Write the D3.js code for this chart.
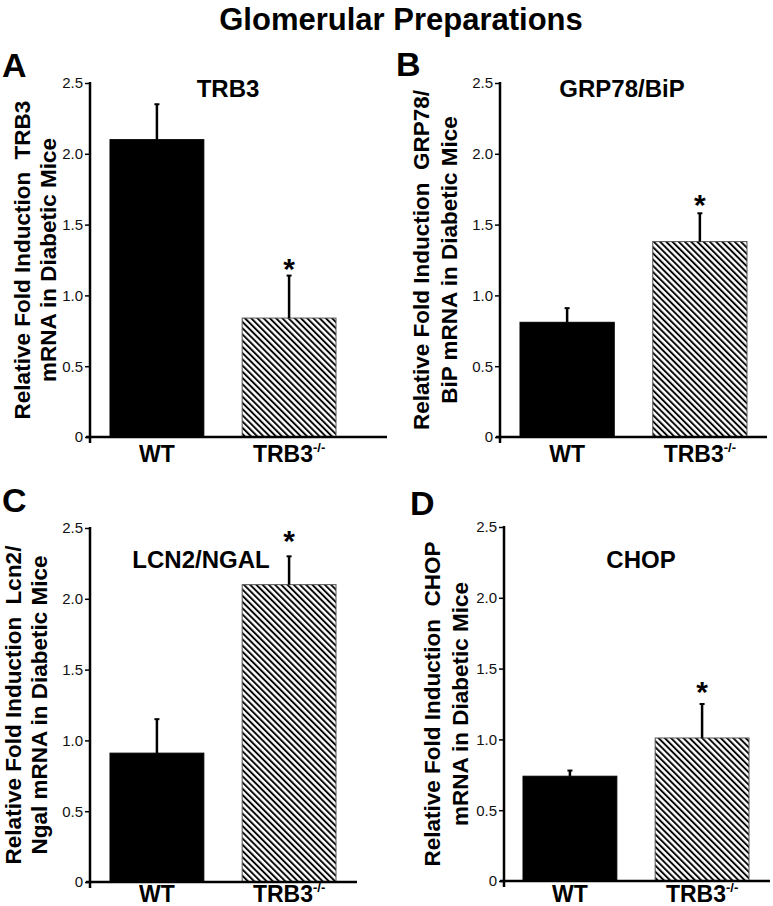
<!DOCTYPE html>
<html>
<head>
<meta charset="utf-8">
<script src="https://cdn.jsdelivr.net/npm/d3@7"></script>
<style>
  html, body { margin: 0; padding: 0; background: #fff; }
  svg { display: block; font-family: "Liberation Sans", Arial, Helvetica, sans-serif; }
</style>
</head>
<body>
<svg id="chart" width="773" height="906"></svg>
<script>
// ---- data ----
const mainTitle = "Glomerular Preparations";
const panelLetters = ["A", "B", "C", "D"];
const panelTitles = ["TRB3", "GRP78/BiP", "LCN2/NGAL", "CHOP"];
const categories = ["WT", "TRB3"];
const categorySup = ["", "-/-"];
const wtMean = [2.10, 0.81, 0.91, 0.74];
const wtErr  = [0.25, 0.10, 0.24, 0.04];
const koMean = [0.84, 1.38, 2.10, 1.01];
const koErr  = [0.30, 0.20, 0.20, 0.24];
const significant = [true, true, true, true];
const yTicks = [0, 0.5, 1.0, 1.5, 2.0, 2.5];
const yLabelLines = [
  ["Relative Fold Induction  TRB3", "mRNA in Diabetic Mice"],
  ["Relative Fold Induction  GRP78/", "BiP mRNA in Diabetic Mice"],
  ["Relative Fold Induction  Lcn2/", "Ngal mRNA in Diabetic Mice"],
  ["Relative Fold Induction  CHOP", "mRNA in Diabetic Mice"]
];

// ---- layout (pixels) ----
const layout = [
  {axisX: 90,  yTop: 83,  y0: 437, bars: [110, 336], xEnd: 387, title: [228, 97],  letter: [2, 77],   ylab: [30, 56],   xlabY: 462, starDy: 14},
  {axisX: 500, yTop: 83,  y0: 437, bars: [520, 747], xEnd: 767, title: [622, 97],  letter: [396, 76], ylab: [429, 457], xlabY: 462, starDy: 15},
  {axisX: 90,  yTop: 528, y0: 882, bars: [110, 336], xEnd: 357, title: [201, 568], letter: [2, 512],  ylab: [21, 47],   xlabY: 902, starDy: 22},
  {axisX: 504, yTop: 527, y0: 881, bars: [523, 749], xEnd: 770, title: [641, 568], letter: [410, 515], ylab: [440, 468], xlabY: 902, starDy: 19}
];

const svg = d3.select("#chart");

// hatch pattern
const defs = svg.append("defs");
const pat = defs.append("pattern")
  .attr("id", "hatch")
  .attr("patternUnits", "userSpaceOnUse")
  .attr("width", 4.4).attr("height", 4.4)
  .attr("patternTransform", "rotate(-45)");
pat.append("rect").attr("width", 4.4).attr("height", 4.4).attr("fill", "#fff");
pat.append("line").attr("x1", 1).attr("y1", 0).attr("x2", 1).attr("y2", 4.4)
  .attr("stroke", "#000").attr("stroke-width", 1.9);

// main title
svg.append("text")
  .attr("x", 401).attr("y", 30)
  .attr("text-anchor", "middle")
  .attr("font-size", 31).attr("font-weight", "bold")
  .text(mainTitle);

panelLetters.forEach((letter, i) => {
  const L = layout[i];
  const g = svg.append("g");

  const y = d3.scaleLinear().domain([0, 2.5]).range([L.y0, L.yTop]);
  const x = d3.scaleBand().domain(categories).range(L.bars).paddingInner(0.29).paddingOuter(0);

  const means = [wtMean[i], koMean[i]];
  const errs = [wtErr[i], koErr[i]];
  const rows = categories.map((c, k) => ({cat: c, sup: categorySup[k], mean: means[k], err: errs[k], k}));

  // bars
  g.selectAll("rect.bar").data(rows).enter().append("rect")
    .attr("class", "bar")
    .attr("x", d => x(d.cat))
    .attr("width", x.bandwidth())
    .attr("y", d => y(d.mean))
    .attr("height", d => y(0) - y(d.mean))
    .attr("fill", d => d.k === 0 ? "#000" : "url(#hatch)")
    .attr("stroke", d => d.k === 0 ? "#000" : "#555")
    .attr("stroke-width", 1);

  // error bars (upper only)
  g.selectAll("line.err").data(rows).enter().append("line")
    .attr("x1", d => x(d.cat) + x.bandwidth() / 2)
    .attr("x2", d => x(d.cat) + x.bandwidth() / 2)
    .attr("y1", d => y(d.mean))
    .attr("y2", d => y(d.mean + d.err))
    .attr("stroke", "#000").attr("stroke-width", 2.5);
  g.selectAll("line.cap").data(rows).enter().append("line")
    .attr("x1", d => x(d.cat) + x.bandwidth() / 2 - 2.5)
    .attr("x2", d => x(d.cat) + x.bandwidth() / 2 + 2.5)
    .attr("y1", d => y(d.mean + d.err))
    .attr("y2", d => y(d.mean + d.err))
    .attr("stroke", "#000").attr("stroke-width", 2);

  // asterisk
  if (significant[i]) {
    const d = rows[1];
    g.append("text")
      .attr("x", x(d.cat) + x.bandwidth() / 2)
      .attr("y", y(d.mean + d.err) - L.starDy + 17)
      .attr("text-anchor", "middle")
      .attr("font-size", 30).attr("font-weight", "bold")
      .text("*");
  }

  // y axis
  const yAxis = d3.axisLeft(y)
    .tickValues(yTicks)
    .tickFormat(v => v === 0 ? "0" : d3.format(".1f")(v))
    .tickSize(5).tickSizeOuter(0).tickPadding(2);
  const ga = g.append("g").attr("transform", `translate(${L.axisX},0)`).call(yAxis);
  ga.select(".domain").remove();
  ga.selectAll(".tick line").attr("stroke", "#000").attr("stroke-width", 1.5);
  ga.selectAll(".tick text")
    .attr("font-size", 15).attr("fill", "#111")
    .attr("font-family", "'Liberation Sans', Arial, sans-serif");
  g.append("line")
    .attr("x1", L.axisX).attr("x2", L.axisX)
    .attr("y1", L.yTop - 1).attr("y2", L.y0 + 6)
    .attr("stroke", "#000").attr("stroke-width", 2.5);

  // x axis line
  g.append("line")
    .attr("x1", L.axisX - 4).attr("x2", L.xEnd)
    .attr("y1", L.y0).attr("y2", L.y0)
    .attr("stroke", "#000").attr("stroke-width", 2.5);

  // x labels
  const xl = g.selectAll("text.xlab").data(rows).enter().append("text")
    .attr("class", "xlab")
    .attr("x", d => x(d.cat) + x.bandwidth() / 2)
    .attr("y", L.xlabY)
    .attr("text-anchor", "middle")
    .attr("font-size", 23).attr("font-weight", "bold");
  xl.append("tspan").text(d => d.cat);
  xl.filter(d => d.sup).append("tspan")
    .attr("font-size", 13).attr("dy", -10).text(d => d.sup);

  // y label (two lines, rotated)
  const yc = (L.yTop + L.y0) / 2;
  yLabelLines[i].forEach((line, j) => {
    g.append("text")
      .attr("transform", `translate(${L.ylab[j]},${yc}) rotate(-90)`)
      .attr("text-anchor", "middle")
      .attr("font-size", 22.5).attr("font-weight", "bold")
      .style("white-space", "pre")
      .text(line);
  });

  // panel title
  g.append("text")
    .attr("x", L.title[0]).attr("y", L.title[1])
    .attr("text-anchor", "middle")
    .attr("font-size", 24).attr("font-weight", "bold")
    .text(panelTitles[i]);

  // panel letter
  g.append("text")
    .attr("x", L.letter[0]).attr("y", L.letter[1])
    .attr("font-size", 34).attr("font-weight", "bold")
    .text(letter);
});
</script>
</body>
</html>
